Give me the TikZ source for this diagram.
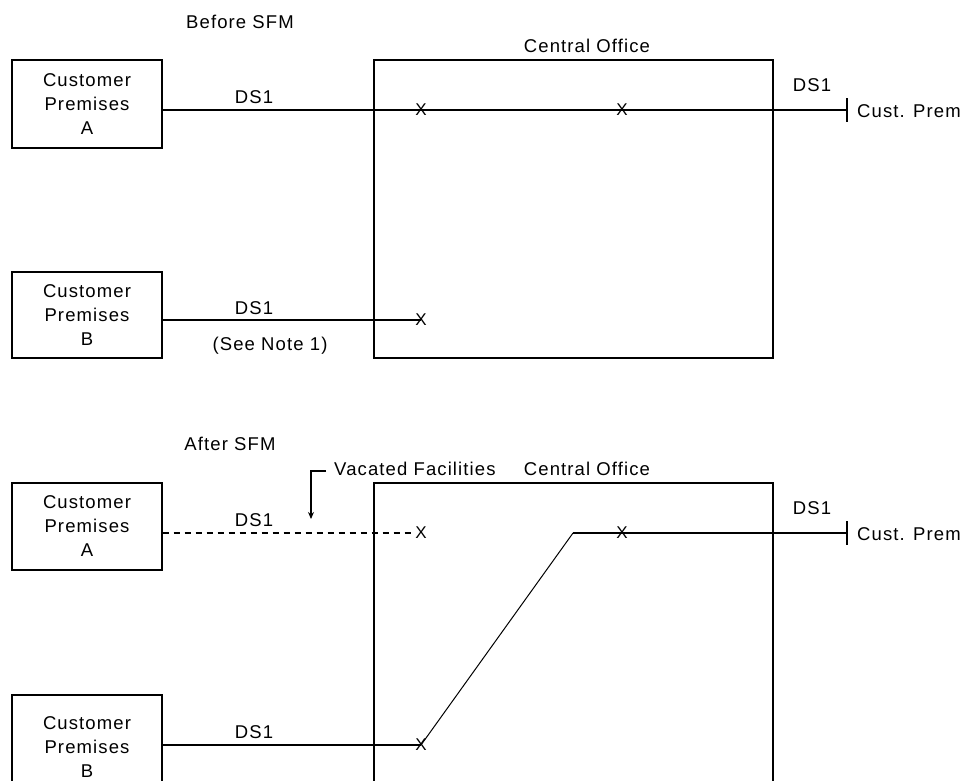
\documentclass[tikz,border=0pt]{standalone}
\usepackage{fontspec}
\setmainfont[LetterSpace=6]{Liberation Sans}
\usetikzlibrary{arrows.meta}
\begin{document}
\begin{tikzpicture}[x=1pt,y=-1pt,
  lw/.style={line width=1.3pt},
  lbl/.style={font=\fontsize{18.5}{22}\selectfont, inner sep=0pt},
  xmark/.style={font=\fontsize{17}{20}\selectfont, inner sep=0pt},
  premises/.style={draw, lw, minimum width=150pt, minimum height=88pt, inner sep=0pt,
    align=center, font=\fontsize{18.5}{24}\selectfont},
  office/.style={draw, lw, minimum width=399pt, inner sep=0pt}]
\useasboundingbox (0,0) rectangle (966,780);
\clip (0,0) rectangle (966,780);

% ---------- Before SFM ----------
\node[lbl] (before) at (240,22) {Before SFM};
\node[premises] (A1) at (87,104) {Customer\\Premises\\A};
\node[premises, minimum height=86pt] (B1) at (87,315) {Customer\\Premises\\B};
\node[office, minimum height=298pt] (CO1) at (573.5,209) {};
\node[lbl] (co1lbl) at (587,46) {Central Office};

\node[xmark] (x1a) at (421,110) {X};
\node[xmark] (x1b) at (622,110) {X};
\node[xmark] (x1c) at (421,320) {X};
\coordinate (t1) at (847,110);
\coordinate (t1u) at (847,98);
\coordinate (t1d) at (847,122);

\draw[lw] (A1.east |- t1) -- (t1);
\draw[lw] (t1u) -- (t1d);
\draw[lw] (B1.east |- x1c) -- (x1c.center);

\node[lbl] (ds1a) at (254,97) {DS1};
\node[lbl] (ds1r) at (812,85) {DS1};
\node[lbl, anchor=west] (cp1) at (857,111) {Cust. Prem};
\node[lbl] (ds1b) at (254,308) {DS1};
\node[lbl] (note) at (270,346) {(See Note 1)};

% ---------- After SFM ----------
\node[lbl] (after) at (230,444) {After SFM};
\node[premises, minimum height=87pt] (A2) at (87,526.5) {Customer\\Premises\\A};
\node[premises, minimum height=105pt] (B2) at (87,747.5) {Customer\\Premises\\B};
\node[office, minimum height=317pt] (CO2) at (573.5,641.5) {};
\node[lbl] (co2lbl) at (587,469) {Central Office};
\node[lbl, anchor=west] (vac) at (334,469) {Vacated Facilities};
\coordinate (vb) at (311,471);
\coordinate (vt) at (311,519);
\draw[lw, -{Stealth[length=7pt,width=6pt]}] (vac.west |- vb) ++(-8,0) -- (vb) -- (vt);

\node[xmark] (x2a) at (421,533) {X};
\node[xmark] (x2b) at (622,533) {X};
\node[xmark] (x2c) at (421,745) {X};
\coordinate (bend) at (573,533);
\coordinate (t2) at (847,533);
\coordinate (t2u) at (847,521);
\coordinate (t2d) at (847,545);

\draw[lw, dash pattern=on 6pt off 5pt] (A2.east |- x2a) -- (x2a.west);
\draw[lw] (B2.east |- x2c) -- (x2c.center);
\draw[line width=1pt] (x2c.center) -- (bend);
\draw[lw] (bend) -- (t2);
\draw[lw] (t2u) -- (t2d);

\node[lbl] (ds2a) at (254,520) {DS1};
\node[lbl] (ds2r) at (812,508) {DS1};
\node[lbl, anchor=west] (cp2) at (857,534) {Cust. Prem};
\node[lbl] (ds2b) at (254,732) {DS1};
\end{tikzpicture}
\end{document}
